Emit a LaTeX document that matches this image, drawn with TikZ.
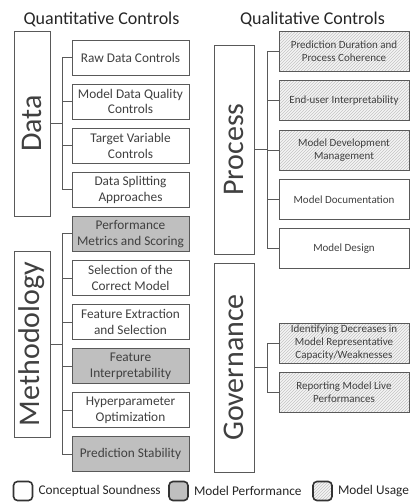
\documentclass[tikz,border=0pt]{standalone}
\usepackage{fontspec}
\setmainfont{Carlito}
\usetikzlibrary{patterns,positioning}

\definecolor{edge}{HTML}{595959}
\definecolor{ink}{HTML}{404040}
\definecolor{perf}{HTML}{BFBFBF}
\definecolor{usage}{HTML}{F4F4F4}
\definecolor{hatch}{HTML}{C4C4C4}

\begin{document}
\begin{tikzpicture}[
    x=1pt, y=-1pt,
    font=\fontsize{13.3}{15.5}\selectfont, text=ink,
    title/.style={font=\fontsize{18}{20}\selectfont, text=black!85},
    box/.style={draw=edge, line width=1pt, align=center, inner sep=2pt},
    grp/.style={box, fill=white, inner sep=0pt, font=\fontsize{30}{30}\selectfont},
    qbox/.style={box, minimum width=117, minimum height=35},
    pbox/.style={box, minimum width=130, minimum height=40, font=\fontsize{11}{13}\selectfont},
    sound/.style={fill=white},
    perform/.style={fill=perf},
    usage/.style={preaction={fill=usage}, pattern=north east lines, pattern color=hatch},
    link/.style={draw=edge, line width=1pt},
    key/.style={draw=black!80, line width=1.6pt, rounded corners=4pt, minimum size=19, inner sep=0pt},
    keytext/.style={inner sep=0pt, text=black!85}
  ]
  \useasboundingbox (0,0) rectangle (411,504);

  \node[title] (quant) at (101.5,19) {Quantitative Controls};
  \node[title] (qual) at (312.5,19) {Qualitative Controls};

  % quantitative side
  \node[grp, minimum width=36, minimum height=185] (data) at (32,123.5) {\rotatebox{90}{Data}};
  \node[grp, minimum width=36, minimum height=186] (method) at (32,344) {\rotatebox{90}{Methodology}};
  \foreach \name/\kind/\y/\lbl in {raw/sound/57.5/{Raw Data Controls},
                                   quality/sound/101.6/{Model Data Quality\\Controls},
                                   target/sound/145.7/{Target Variable\\Controls},
                                   split/sound/189.8/{Data Splitting\\Approaches}} {
    \node[qbox, \kind] (\name) at (130.5,\y) {\lbl};
    \draw[link] (data.east) -- ++(11.5,0) |- (\name.west);
  }
  \foreach \name/\kind/\y/\lbl in {metrics/perform/233.9/{Performance\\Metrics and Scoring},
                                   select/sound/278/{Selection of the\\Correct Model},
                                   extract/sound/322.1/{Feature Extraction\\and Selection},
                                   interp/perform/366.2/{Feature\\Interpretability},
                                   hyper/sound/410.3/{Hyperparameter\\Optimization},
                                   stable/perform/454.4/{Prediction Stability}} {
    \node[qbox, \kind] (\name) at (130.5,\y) {\lbl};
    \draw[link] (method.east) -- ++(11.5,0) |- (\name.west);
  }

  % qualitative side
  \node[grp, minimum width=40, minimum height=209] (process) at (234,149.5) {\rotatebox{90}{Process}};
  \node[grp, minimum width=40, minimum height=209] (govern) at (234,367.5) {\rotatebox{90}{Governance}};
  \foreach \name/\kind/\y/\lbl in {duration/usage/51.5/{Prediction Duration and\\Process Coherence},
                                   enduser/usage/100.7/{End-user Interpretability},
                                   devmgmt/usage/150/{Model Development\\Management},
                                   docs/sound/199.3/{Model Documentation},
                                   design/sound/248.5/{Model Design}} {
    \node[pbox, \kind] (\name) at (344,\y) {\lbl};
    \draw[link] (process.east) -- ++(13,0) |- (\name.west);
  }
  \foreach \name/\kind/\y/\lbl in {decrease/usage/343/{Identifying Decreases in\\Model Representative\\Capacity/Weaknesses},
                                   report/usage/392.5/{Reporting Model Live\\Performances}} {
    \node[pbox, \kind] (\name) at (344,\y) {\lbl};
    \draw[link] (govern.east) -- ++(13,0) |- (\name.west);
  }

  % legend
  \node[key, sound] (ksound) at (23,491) {};
  \node[keytext, right=5pt of ksound] (lsound) {Conceptual Soundness};
  \node[key, perform] (kperf) at (178.5,491) {};
  \node[keytext, right=5pt of kperf] (lperf) {Model Performance};
  \node[key, usage] (kusage) at (322.5,491) {};
  \node[keytext, right=5pt of kusage] (lusage) {Model Usage};
\end{tikzpicture}
\end{document}
